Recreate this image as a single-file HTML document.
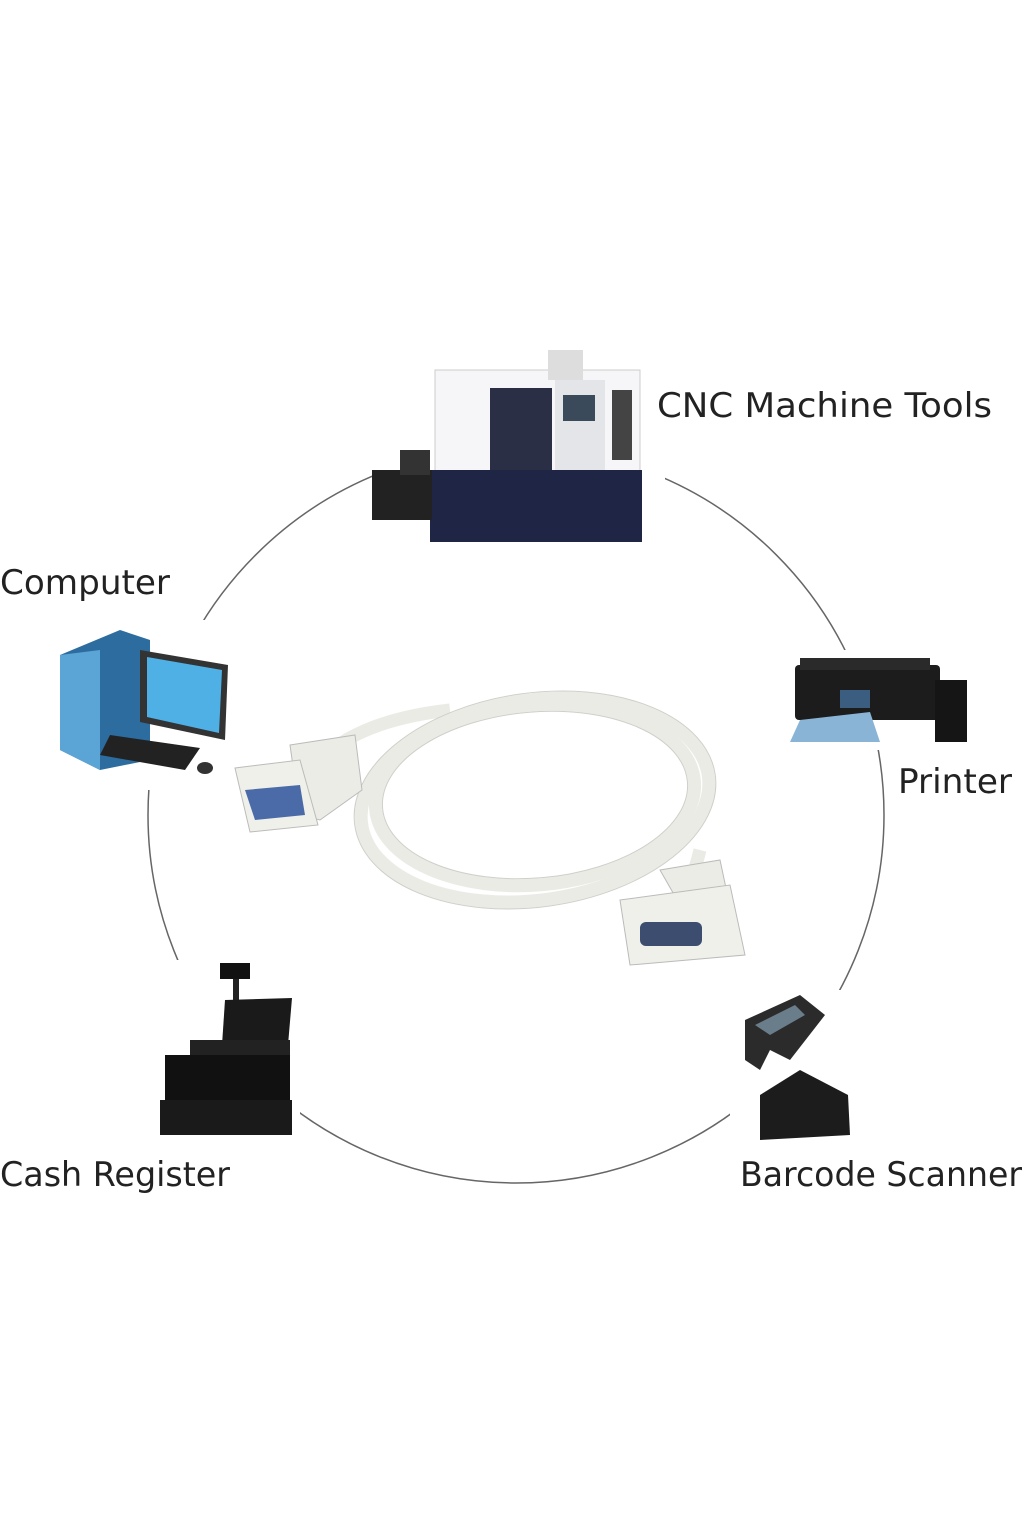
<!DOCTYPE html>
<html><head><meta charset="utf-8"><style>
html,body{margin:0;padding:0;background:#fff;width:1024px;height:1536px;overflow:hidden}
text{font-family:"DejaVu Sans","Liberation Sans",sans-serif;fill:#222}
</style></head><body>
<svg width="1024" height="1536" viewBox="0 0 1024 1536" xmlns="http://www.w3.org/2000/svg">
<circle cx="516" cy="815" r="368" fill="none" stroke="#666" stroke-width="1.5"/>

<!-- CNC machine -->
<g>
<rect x="375" y="330" width="290" height="225" fill="#fff"/>
<rect x="435" y="370" width="205" height="120" fill="#f6f6f8" stroke="#ccc"/>
<rect x="490" y="388" width="62" height="95" fill="#2a2f45"/>
<rect x="555" y="380" width="50" height="100" fill="#e4e5e9"/>
<rect x="563" y="395" width="32" height="26" fill="#3a4a5a"/>
<rect x="612" y="390" width="20" height="70" fill="#444"/>
<rect x="430" y="470" width="212" height="72" fill="#1f2645"/>
<rect x="372" y="470" width="60" height="50" fill="#222"/>
<rect x="400" y="450" width="30" height="25" fill="#333"/>
<rect x="548" y="350" width="35" height="30" fill="#ddd"/>
</g>
<!-- Computer -->
<g>
<rect x="40" y="620" width="200" height="170" fill="#fff"/>
<polygon points="60,655 120,630 150,640 150,760 100,770 60,750" fill="#2d6c9e"/>
<polygon points="60,655 100,650 100,770 60,750" fill="#5aa4d6"/>
<polygon points="140,650 228,665 225,740 140,722" fill="#333"/>
<polygon points="147,657 222,670 219,733 147,717" fill="#4fb0e6"/>
<polygon points="110,735 200,748 185,770 100,755" fill="#222"/>
<ellipse cx="205" cy="768" rx="8" ry="6" fill="#333"/>
</g>
<!-- Printer -->
<g>
<rect x="785" y="650" width="185" height="100" fill="#fff"/>
<rect x="795" y="665" width="145" height="55" rx="4" fill="#1c1c1c"/>
<rect x="935" y="680" width="32" height="62" fill="#151515"/>
<rect x="800" y="658" width="130" height="12" fill="#2a2a2a"/>
<polygon points="800,720 870,712 880,742 790,742" fill="#8ab4d6"/>
<rect x="840" y="690" width="30" height="18" fill="#3a5d80"/>
</g>
<!-- Cash register -->
<g>
<rect x="150" y="960" width="150" height="180" fill="#fff"/>
<rect x="220" y="963" width="30" height="16" fill="#111"/>
<rect x="233" y="979" width="6" height="25" fill="#222"/>
<polygon points="225,1000 292,998 288,1045 222,1045" fill="#1a1a1a"/>
<rect x="190" y="1040" width="100" height="40" fill="#222"/>
<rect x="165" y="1055" width="125" height="45" fill="#111"/>
<rect x="160" y="1100" width="132" height="35" fill="#1a1a1a"/>
</g>
<!-- Barcode scanner -->
<g>
<rect x="730" y="990" width="130" height="155" fill="#fff"/>
<polygon points="745,1020 800,995 825,1015 790,1060 770,1050 760,1070 745,1060" fill="#2b2b2b"/>
<polygon points="755,1025 795,1005 805,1015 770,1035" fill="#6a7d8a"/>
<polygon points="760,1095 800,1070 848,1095 850,1135 760,1140" fill="#1c1c1c"/>
</g>
<!-- Cable -->
<g fill="none" stroke="#ebebe6" stroke-width="13">
<ellipse cx="535" cy="800" rx="175" ry="100" transform="rotate(-8 535 800)"/>
<ellipse cx="535" cy="795" rx="160" ry="90" transform="rotate(-5 535 795)"/>
<path d="M320 760 Q360 720 450 710"/>
<path d="M700 850 Q690 890 680 900"/>
</g>
<g fill="none" stroke="#cfcfca" stroke-width="1">
<ellipse cx="535" cy="800" rx="182" ry="107" transform="rotate(-8 535 800)"/>
<ellipse cx="535" cy="795" rx="153" ry="83" transform="rotate(-5 535 795)"/>
</g>
<g>
<polygon points="290,745 355,735 362,790 320,820 300,815" fill="#ecece6" stroke="#bbb"/>
<polygon points="235,768 300,760 318,825 250,832" fill="#f0f0ea" stroke="#bbb"/>
<polygon points="245,790 300,785 305,815 255,820" fill="#4a6aa8"/>
<polygon points="660,870 720,860 735,930 700,940" fill="#ecece6" stroke="#bbb"/>
<polygon points="620,900 730,885 745,955 630,965" fill="#f0f0ea" stroke="#bbb"/>
<rect x="640" y="922" width="62" height="24" rx="6" fill="#3c4d70"/>
</g>

<text x="657" y="417" font-size="34" textLength="335" lengthAdjust="spacingAndGlyphs">CNC Machine Tools</text>
<text x="0" y="594" font-size="34" textLength="170" lengthAdjust="spacingAndGlyphs">Computer</text>
<text x="898" y="793" font-size="34" textLength="114" lengthAdjust="spacingAndGlyphs">Printer</text>
<text x="0" y="1186" font-size="34" textLength="230" lengthAdjust="spacingAndGlyphs">Cash Register</text>
<text x="740" y="1186" font-size="34" textLength="282" lengthAdjust="spacingAndGlyphs">Barcode Scanner</text>
</svg>
</body></html>
